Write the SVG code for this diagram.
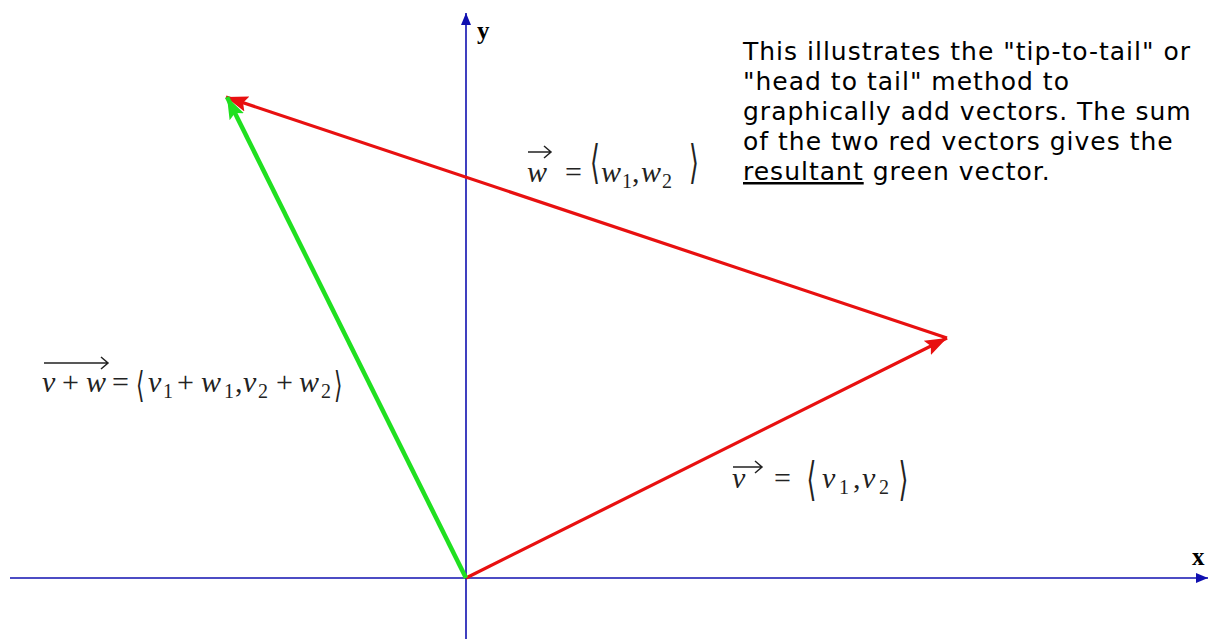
<svg xmlns="http://www.w3.org/2000/svg" width="1209" height="639" viewBox="0 0 1209 639">
<style>
.axis{stroke:#1010b0;stroke-width:1.6;fill:none}
.red{stroke:#e81010;stroke-width:3.2;fill:none}
.green{stroke:#20e020;stroke-width:4.5;fill:none}
.ax{font-family:"Liberation Serif",serif;font-weight:bold;font-size:25px;fill:#000}
.m{font-family:"Liberation Serif",serif;font-size:30px;fill:#222}
.i{font-style:italic}
.s{font-size:20px}
.br{font-family:"DejaVu Serif",serif;font-size:46px;fill:#222}
.brs{font-family:"DejaVu Serif",serif;font-size:36px;fill:#222}
.note{font-family:"DejaVu Sans",Verdana,sans-serif;font-size:25px;letter-spacing:1px;fill:#000}
.acc{stroke:#222;stroke-width:1.5;fill:none}
</style>
<defs>
<marker id="ah-blue" markerUnits="userSpaceOnUse" markerWidth="14" markerHeight="12" refX="12" refY="6" orient="auto"><path d="M0,1 L12,6 L0,11 Z" fill="#1010b0"/></marker>
<marker id="ah-red" markerUnits="userSpaceOnUse" markerWidth="24" markerHeight="20" refX="22" refY="10" orient="auto"><path d="M0,2 L22,10 L0,18 L4,10 Z" fill="#e81010"/></marker>
<marker id="ah-green" markerUnits="userSpaceOnUse" markerWidth="24" markerHeight="20" refX="22" refY="10" orient="auto"><path d="M0,2 L22,10 L0,18 L4,10 Z" fill="#20e020"/></marker>
</defs>
<rect width="1209" height="639" fill="#fff"/>
<g id="axes">
<line class="axis" x1="10" y1="578" x2="1208" y2="578" marker-end="url(#ah-blue)"/>
<line class="axis" x1="466" y1="639" x2="466" y2="13" marker-end="url(#ah-blue)"/>
<text class="ax" x="477" y="39">y</text>
<text class="ax" x="1192" y="565">x</text>
</g>
<g id="connectors">
<line class="red" x1="466" y1="578" x2="947" y2="338" marker-end="url(#ah-red)"/>
<line class="red" x1="947" y1="338" x2="226" y2="97" marker-end="url(#ah-red)"/>
<line class="green" x1="466" y1="578" x2="227" y2="97" marker-end="url(#ah-green)"/>
</g>
<g id="label-sum">
<text class="m"><tspan class="i" x="42" y="392">v</tspan><tspan x="62" y="392">+</tspan><tspan class="i" x="86" y="392">w</tspan><tspan x="112" y="392">=</tspan><tspan class="i" x="148" y="392">v</tspan><tspan class="s" x="163" y="398">1</tspan><tspan x="177" y="392">+</tspan><tspan class="i" x="201" y="392">w</tspan><tspan class="s" x="224" y="398">1</tspan><tspan x="235" y="392">,</tspan><tspan class="i" x="243" y="392">v</tspan><tspan class="s" x="258" y="398">2</tspan><tspan x="276" y="392">+</tspan><tspan class="i" x="299" y="392">w</tspan><tspan class="s" x="321" y="398">2</tspan></text>
<text class="brs" transform="translate(136,397) scale(0.6,1)">⟨</text>
<text class="brs" transform="translate(334,397) scale(0.6,1)">⟩</text>
<path class="acc" d="M44,363 H107 M101,357 L108,363 L101,369"/>
</g>
<g id="label-w">
<text class="m"><tspan class="i" x="527" y="182">w</tspan><tspan x="565" y="182">=</tspan><tspan class="i" x="601" y="182">w</tspan><tspan class="s" x="622" y="188">1</tspan><tspan x="632" y="182">,</tspan><tspan class="i" x="641" y="182">w</tspan><tspan class="s" x="662" y="188">2</tspan></text>
<text class="br" transform="translate(590,178) scale(0.55,1)">⟨</text>
<text class="br" transform="translate(689,178) scale(0.55,1)">⟩</text>
<path class="acc" d="M528,152 H550 M544,146 L551,152 L544,158"/>
</g>
<g id="label-v">
<text class="m"><tspan class="i" x="822" y="488">v</tspan><tspan class="s" x="839" y="494">1</tspan><tspan x="853" y="488">,</tspan><tspan class="i" x="862" y="488">v</tspan><tspan class="s" x="879" y="494">2</tspan><tspan class="i" x="732" y="488">v</tspan><tspan x="774" y="488">=</tspan></text>
<text class="br" transform="translate(806.5,495) scale(0.55,1)">⟨</text>
<text class="br" transform="translate(898.5,495) scale(0.55,1)">⟩</text>
<path class="acc" d="M733,467 H761 M755,461 L762,467 L755,473"/>
</g>
<g id="note">
<text class="note" x="743" y="60">This illustrates the "tip-to-tail" or</text>
<text class="note" x="743" y="90">"head to tail" method to</text>
<text class="note" x="743" y="120">graphically add vectors. The sum</text>
<text class="note" x="743" y="150">of the two red vectors gives the</text>
<text class="note" x="743" y="180"><tspan text-decoration="underline">resultant</tspan> green vector.</text>
</g>
</svg>
